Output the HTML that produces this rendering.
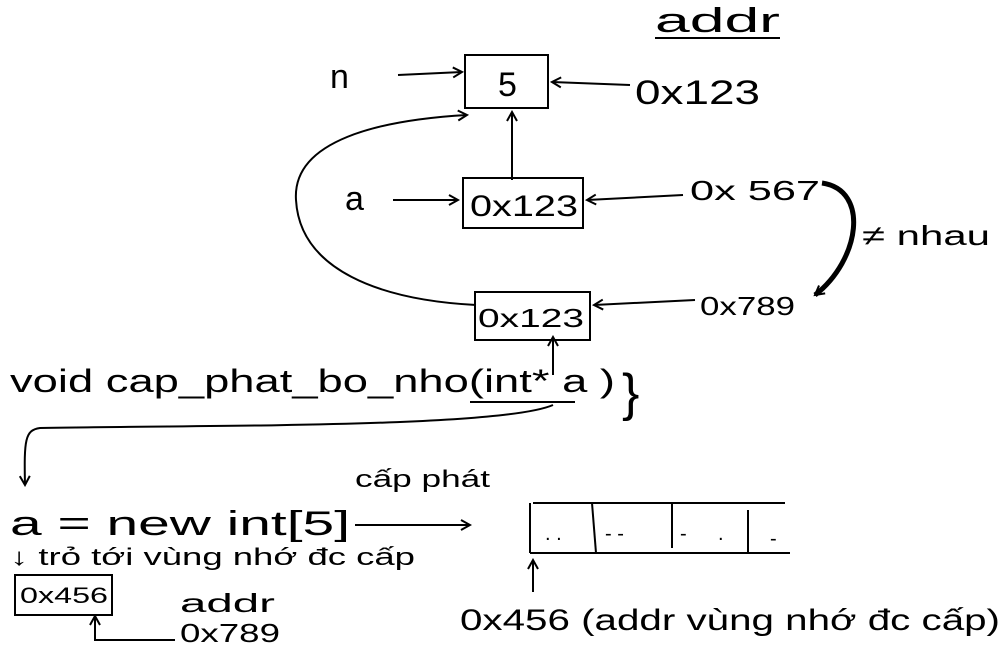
<!DOCTYPE html>
<html><head><meta charset="utf-8"><style>
html,body{margin:0;padding:0;background:#fff;width:1005px;height:655px;overflow:hidden}
svg{display:block}
text{font-family:"Liberation Sans","DejaVu Sans",sans-serif;fill:#000}
</style></head><body>
<svg width="1005" height="655" viewBox="0 0 1005 655" xmlns="http://www.w3.org/2000/svg">
<defs><marker id="ah" markerWidth="12" markerHeight="12" refX="10" refY="6" orient="auto" markerUnits="userSpaceOnUse"><path d="M1,1 L10,6 L1,11" fill="none" stroke="#000" stroke-width="2"/></marker></defs>
<g stroke="#000" stroke-width="2" fill="none">
<line x1="655" y1="38" x2="780" y2="38"/>
<rect x="465" y="55" width="83" height="53"/>
<line x1="398" y1="75" x2="462" y2="72" marker-end="url(#ah)"/>
<line x1="630" y1="85" x2="552" y2="82" marker-end="url(#ah)"/>
<line x1="512" y1="180" x2="512" y2="112" marker-end="url(#ah)"/>
<rect x="463" y="178" width="120" height="50"/>
<line x1="393" y1="200" x2="458" y2="200" marker-end="url(#ah)"/>
<line x1="683" y1="195" x2="587" y2="200" marker-end="url(#ah)"/>
<path d="M822,183 C870,190 860,260 815,295" stroke-width="5" marker-end="url(#ah)"/>
<rect x="475" y="292" width="115" height="48"/>
<line x1="695" y1="300" x2="594" y2="305" marker-end="url(#ah)"/>
<path d="M476,305 C380,300 300,270 296,200 C292,140 380,120 467,115" marker-end="url(#ah)"/>
<line x1="553" y1="375" x2="553" y2="337" marker-end="url(#ah)"/>
<line x1="470" y1="402" x2="575" y2="402"/>
<path d="M553,405 C500,428 200,425 40,428 C25,430 24,440 25,485" marker-end="url(#ah)"/>
<line x1="355" y1="525" x2="470" y2="525" marker-end="url(#ah)"/>
<rect x="15" y="575" width="97" height="40"/>
<path d="M175,640 L95,640 L95,616" marker-end="url(#ah)"/>
<line x1="533" y1="503" x2="785" y2="503"/>
<line x1="530" y1="553" x2="790" y2="553"/>
<line x1="530" y1="503" x2="530" y2="553"/>
<line x1="592" y1="503" x2="596" y2="553"/>
<line x1="672" y1="503" x2="672" y2="548"/>
<line x1="748" y1="510" x2="748" y2="553"/>
<line x1="533" y1="592" x2="533" y2="560" marker-end="url(#ah)"/>
</g>
<g font-size="34">
<text x="655" y="32" textLength="125" lengthAdjust="spacingAndGlyphs">addr</text>
<text x="498" y="96">5</text>
<text x="330" y="88">n</text>
<text x="635" y="104" textLength="125" lengthAdjust="spacingAndGlyphs">0x123</text>
<text x="345" y="210">a</text>
<text x="470" y="216" font-size="30" textLength="108" lengthAdjust="spacingAndGlyphs">0x123</text>
<text x="690" y="200" font-size="28" textLength="130" lengthAdjust="spacingAndGlyphs">0x 567</text>
<text x="862" y="245" font-size="28" textLength="128" lengthAdjust="spacingAndGlyphs">≠ nhau</text>
<text x="478" y="327" font-size="26" textLength="106" lengthAdjust="spacingAndGlyphs">0x123</text>
<text x="700" y="315" font-size="26" textLength="95" lengthAdjust="spacingAndGlyphs">0x789</text>
<text x="10" y="392" font-size="32" textLength="605" lengthAdjust="spacingAndGlyphs">void cap_phat_bo_nho(int*  a  )</text>
<text x="622" y="410" font-size="52">}</text>
<text x="355" y="487" font-size="24" textLength="135" lengthAdjust="spacingAndGlyphs">cấp phát</text>
<text x="10" y="535" font-size="34" textLength="340" lengthAdjust="spacingAndGlyphs">a = new int[5]</text>
<text x="10" y="565" font-size="24" textLength="405" lengthAdjust="spacingAndGlyphs">↓ trỏ tới vùng nhớ đc cấp</text>
<text x="20" y="603" font-size="22" textLength="88" lengthAdjust="spacingAndGlyphs">0x456</text>
<text x="180" y="612" font-size="26" textLength="95" lengthAdjust="spacingAndGlyphs">addr</text>
<text x="180" y="642" font-size="26" textLength="100" lengthAdjust="spacingAndGlyphs">0x789</text>
<text x="545" y="540" font-size="20">. .</text>
<text x="605" y="540" font-size="20">- -</text>
<text x="680" y="540" font-size="20">-</text>
<text x="718" y="540" font-size="20">.</text>
<text x="770" y="545" font-size="20">-</text>
<text x="460" y="630" font-size="30" textLength="540" lengthAdjust="spacingAndGlyphs">0x456 (addr vùng nhớ đc cấp)</text>
</g>
</svg>
</body></html>
